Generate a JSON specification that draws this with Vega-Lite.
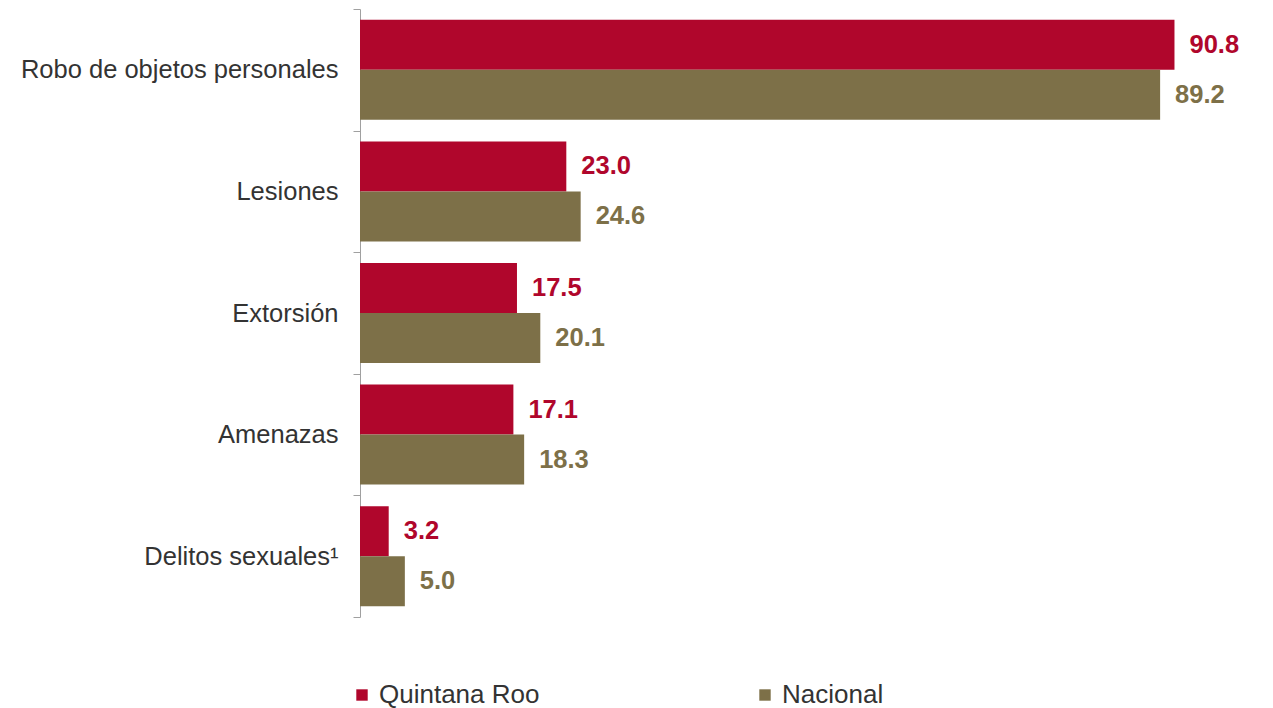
{
  "$schema": "https://vega.github.io/schema/vega-lite/v6.json",
  "width": 897,
  "height": 608,
  "autosize": {"type": "none"},
  "padding": {"left": 360, "top": 9, "right": 16, "bottom": 91},
  "background": "white",
  "config": {"view": {"stroke": null}, "font": "Liberation Sans"},
  "data": {
    "values": [
      {"delito": "Robo de objetos personales", "serie": "Quintana Roo", "valor": 90.8},
      {"delito": "Robo de objetos personales", "serie": "Nacional", "valor": 89.2},
      {"delito": "Lesiones", "serie": "Quintana Roo", "valor": 23.0},
      {"delito": "Lesiones", "serie": "Nacional", "valor": 24.6},
      {"delito": "Extorsión", "serie": "Quintana Roo", "valor": 17.5},
      {"delito": "Extorsión", "serie": "Nacional", "valor": 20.1},
      {"delito": "Amenazas", "serie": "Quintana Roo", "valor": 17.1},
      {"delito": "Amenazas", "serie": "Nacional", "valor": 18.3},
      {"delito": "Delitos sexuales¹", "serie": "Quintana Roo", "valor": 3.2},
      {"delito": "Delitos sexuales¹", "serie": "Nacional", "valor": 5.0}
    ]
  },
  "encoding": {
    "y": {
      "field": "delito",
      "type": "nominal",
      "sort": null,
      "scale": {"paddingInner": 0, "paddingOuter": 0},
      "axis": {
        "title": null,
        "tickBand": "extent",
        "tickSize": 7,
        "tickColor": "#a0a0a0",
        "domainColor": "#a0a0a0",
        "labelPadding": 15,
        "labelFontSize": 25.5,
        "labelColor": "#333333",
        "labelFont": "Liberation Sans",
        "labelLimit": 400
      }
    },
    "yOffset": {
      "field": "serie",
      "type": "nominal",
      "sort": ["Quintana Roo", "Nacional"],
      "scale": {"paddingInner": 0, "paddingOuter": 0.216}
    },
    "x": {
      "field": "valor",
      "type": "quantitative",
      "scale": {"domain": [0, 100]},
      "axis": null
    },
    "color": {
      "field": "serie",
      "type": "nominal",
      "sort": ["Quintana Roo", "Nacional"],
      "scale": {"domain": ["Quintana Roo", "Nacional"], "range": ["#B0062C", "#7D7048"]},
      "legend": {
        "title": null,
        "orient": "none",
        "legendX": -11,
        "legendY": 673,
        "direction": "horizontal",
        "columns": 2,
        "columnPadding": 212,
        "symbolType": "square",
        "symbolSize": 130,
        "symbolStrokeWidth": 0,
        "symbolOpacity": 1,
        "labelFontSize": 26,
        "labelColor": "#333333",
        "labelFont": "Liberation Sans",
        "labelOffset": 4,
        "labelLimit": 300
      }
    }
  },
  "layer": [
    {"mark": {"type": "bar", "opacity": 1}},
    {
      "mark": {"type": "text", "align": "left", "baseline": "middle", "dx": 15, "fontSize": 25.5, "fontWeight": "bold", "font": "Liberation Sans"},
      "encoding": {
        "text": {"field": "valor", "type": "quantitative", "format": ".1f"},
        "color": {
          "field": "serie",
          "type": "nominal",
          "scale": {"domain": ["Quintana Roo", "Nacional"], "range": ["#B0062C", "#7D7048"]},
          "legend": null
        }
      }
    }
  ]
}
